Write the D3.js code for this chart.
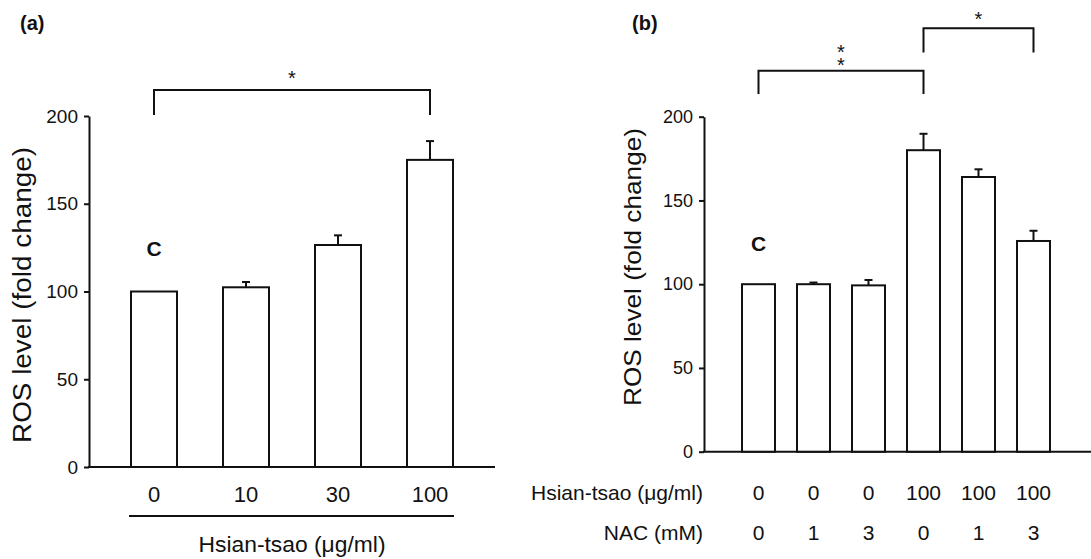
<!DOCTYPE html>
<html>
<head>
<meta charset="utf-8">
<script src="https://cdn.jsdelivr.net/npm/d3@7"></script>
<style>
  body { margin: 0; background: #fff; }
  text { font-family: "Liberation Sans", Arial, sans-serif; fill: #111; }
</style>
</head>
<body>
<div id="chart"></div>
<script>
// panel (a) data
const dosesA = ["0", "10", "30", "100"];
const valuesA = [100, 102.4, 126.5, 175];
const errorsA = [0, 3, 5.5, 10.7];

// panel (b) data
const hsianB = ["0", "0", "0", "100", "100", "100"];
const nacB = ["0", "1", "3", "0", "1", "3"];
const valuesB = [100, 100, 99.3, 180, 164, 125.8];
const errorsB = [0, 1, 3.2, 9.8, 4.6, 6.1];

const yTicks = [0, 50, 100, 150, 200];

const width = 1091;
const height = 559;
const stroke = "#111";

const svg = d3.select("div#chart").append("svg")
    .attr("width", width)
    .attr("height", height)

function panel(opt) {
    const g = svg.append("g")
    const n = opt.values.length
    const x = d3.scaleBand().domain(d3.range(n)).range(opt.xRange)
        .paddingInner(opt.padIn).paddingOuter(opt.padOut)
    const y = d3.scaleLinear().domain([0, 200]).range(opt.yRange)
    const bw = x.bandwidth()

    // y axis
    const yAxis = d3.axisLeft(y).tickValues(yTicks).tickSize(5).tickSizeOuter(0).tickPadding(6)
    const yg = g.append("g")
        .attr("transform", `translate(${opt.axisX},0)`)
        .call(yAxis)
    yg.select(".domain").attr("stroke", stroke).attr("stroke-width", 2)
    yg.selectAll(".tick line").attr("stroke", stroke).attr("stroke-width", 2)
    yg.selectAll(".tick text")
        .attr("font-size", opt.tickFont + "px")
        .attr("font-family", "'Liberation Sans', Arial, sans-serif")
        .attr("fill", "#111")

    // x baseline
    g.append("line")
        .attr("x1", opt.axisX - 1).attr("x2", opt.axisEnd)
        .attr("y1", y(0)).attr("y2", y(0))
        .attr("stroke", stroke).attr("stroke-width", 2)

    // bars
    g.selectAll(".bar")
        .data(opt.values)
        .enter().append("rect")
        .attr("class", "bar")
        .attr("x", (d, i) => x(i))
        .attr("y", d => y(d))
        .attr("width", bw)
        .attr("height", d => y(0) - y(d))
        .attr("fill", "#fff")
        .attr("stroke", stroke)
        .attr("stroke-width", 2)

    // error bars
    opt.errors.forEach((e, i) => {
        if (e <= 0) return
        const cx = x(i) + bw / 2
        g.append("line")
            .attr("x1", cx).attr("x2", cx)
            .attr("y1", y(opt.values[i])).attr("y2", y(opt.values[i] + e))
            .attr("stroke", stroke).attr("stroke-width", 2)
        g.append("line")
            .attr("x1", cx - 4).attr("x2", cx + 4)
            .attr("y1", y(opt.values[i] + e)).attr("y2", y(opt.values[i] + e))
            .attr("stroke", stroke).attr("stroke-width", 2)
    })

    // brackets with significance stars (stacked like the original)
    opt.brackets.forEach(b => {
        const x1 = x(b.from) + bw / 2
        const x2 = x(b.to) + bw / 2
        g.append("path")
            .attr("d", `M${x1},${y(b.foot)}V${y(b.level)}H${x2}V${y(b.foot)}`)
            .attr("fill", "none").attr("stroke", stroke).attr("stroke-width", 2)
        const t = g.append("text")
            .attr("text-anchor", "middle")
            .attr("font-size", "20px")
        const baseY = y(b.level) - b.gap - (b.stars.length - 1) * 13
        b.stars.forEach((s, k) => {
            t.append("tspan")
                .attr("x", (x1 + x2) / 2)
                .attr("y", baseY + k * 13)
                .text(s)
        })
    })

    // "C" label above control bar
    g.append("text")
        .attr("x", x(0) + bw / 2)
        .attr("y", opt.cY)
        .attr("text-anchor", "middle")
        .attr("font-size", opt.cFont + "px")
        .attr("font-weight", "bold")
        .text("C")

    // y title
    g.append("text")
        .attr("transform", `translate(${opt.titleX},${opt.titleY}) rotate(-90)`)
        .attr("text-anchor", "middle")
        .attr("font-size", opt.titleFont + "px")
        .attr("textLength", opt.titleLen)
        .attr("lengthAdjust", "spacingAndGlyphs")
        .text("ROS level (fold change)")

    // panel letter
    g.append("text")
        .attr("x", opt.letterX).attr("y", 30)
        .attr("font-size", "20px").attr("font-weight", "bold")
        .text(opt.letter)

    return { g, x, y, bw }
}

// ---- panel (a)
const A = panel({
    values: valuesA, errors: errorsA,
    xRange: [108, 476], padIn: 0.5, padOut: 0.25,
    yRange: [467, 116], axisX: 89, axisEnd: 495,
    tickFont: 19, cY: 256, cFont: 21,
    titleX: 31, titleY: 295, titleFont: 26, titleLen: 296,
    letter: "(a)", letterX: 20,
    brackets: [{ from: 0, to: 3, level: 214.8, foot: 200.5, stars: ["*"], gap: 5 }]
})

A.g.selectAll(".xlab")
    .data(dosesA)
    .enter().append("text")
    .attr("class", "xlab")
    .attr("x", (d, i) => A.x(i) + A.bw / 2)
    .attr("y", 502)
    .attr("text-anchor", "middle")
    .attr("font-size", "22px")
    .text(d => d)

A.g.append("line")
    .attr("x1", A.x(0) - 2).attr("x2", A.x(dosesA.length - 1) + A.bw + 1)
    .attr("y1", 516).attr("y2", 516)
    .attr("stroke", stroke).attr("stroke-width", 2)

A.g.append("text")
    .attr("x", (A.x(0) + A.x(dosesA.length - 1) + A.bw) / 2)
    .attr("y", 552)
    .attr("text-anchor", "middle")
    .attr("font-size", "22px")
    .attr("textLength", 187)
    .attr("lengthAdjust", "spacingAndGlyphs")
    .text("Hsian-tsao (\u03bcg/ml)")

// ---- panel (b)
const B = panel({
    values: valuesB, errors: errorsB,
    xRange: [731, 1061], padIn: 0.4, padOut: 0.2,
    yRange: [451.7, 116.7], axisX: 704, axisEnd: 1091,
    tickFont: 18, cY: 251, cFont: 21,
    titleX: 641, titleY: 267, titleFont: 24, titleLen: 278,
    letter: "(b)", letterX: 632,
    brackets: [
        { from: 0, to: 3, level: 227.5, foot: 213.5, stars: ["*", "*"], gap: -1.5 },
        { from: 3, to: 5, level: 252.8, foot: 238.3, stars: ["*"], gap: 2 }
    ]
})

B.g.selectAll(".hlab")
    .data(hsianB)
    .enter().append("text")
    .attr("x", (d, i) => B.x(i) + B.bw / 2)
    .attr("y", 500)
    .attr("text-anchor", "middle")
    .attr("font-size", "21px")
    .text(d => d)

B.g.selectAll(".nlab")
    .data(nacB)
    .enter().append("text")
    .attr("x", (d, i) => B.x(i) + B.bw / 2)
    .attr("y", 540)
    .attr("text-anchor", "middle")
    .attr("font-size", "21px")
    .text(d => d)

B.g.append("text")
    .attr("x", 703).attr("y", 500)
    .attr("text-anchor", "end")
    .attr("font-size", "21px")
    .text("Hsian-tsao (\u03bcg/ml)")

B.g.append("text")
    .attr("x", 703).attr("y", 540)
    .attr("text-anchor", "end")
    .attr("font-size", "21px")
    .text("NAC (mM)")
</script>
</body>
</html>
